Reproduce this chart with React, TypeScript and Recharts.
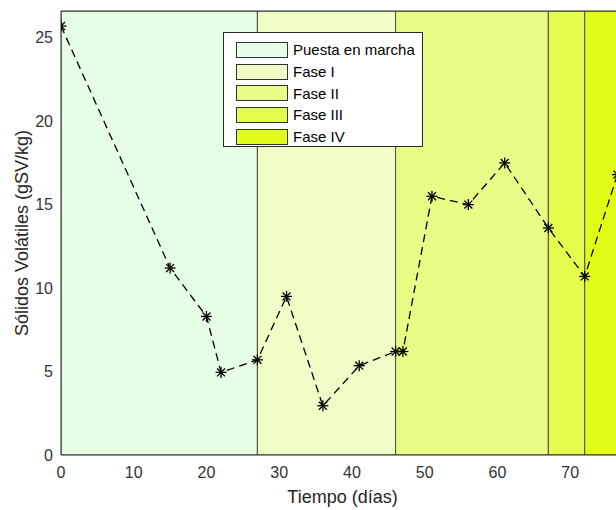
import React from 'react';
import { ComposedChart, Line, XAxis, YAxis, ReferenceArea, ReferenceLine, Legend, Label } from 'recharts';

// tiempo (días) y sólidos volátiles (gSV/kg)
const days = [0, 15, 20, 22, 27, 31, 36, 41, 46, 47, 51, 56, 61, 67, 72, 76.5];
const solids = [25.7, 11.2, 8.3, 4.95, 5.7, 9.5, 2.95, 5.35, 6.2, 6.2, 15.5, 15.0, 17.5, 13.6, 10.7, 16.8];

// fases del proceso
const phaseNames = ['Puesta en marcha', 'Fase I', 'Fase II', 'Fase III', 'Fase IV'];
const phaseStart = [0, 27, 46, 67, 72];
const phaseEnd = [27, 46, 67, 72, 80];
const phaseColors = ['#e6fde6', '#effdc6', '#e9fc86', '#e4fc4c', '#e1fd16'];

const xTicks = [0, 10, 20, 30, 40, 50, 60, 70];
const yTicks = [0, 5, 10, 15, 20, 25];

const X_MAX = 76.3;
const Y_MAX = 26.6;
const FONT = '"Liberation Sans", Arial, Helvetica, sans-serif';
const AXIS_COLOR = '#262626';

const data = days.map((d, i) => ({ day: d, sv: solids[i] }));

const Star = (props: any) => {
  const { cx, cy } = props;
  if (cx == null || cy == null) return null;
  const r = 5.5;
  const d = r * 0.72;
  return (
    <g stroke="#000" strokeWidth={1.3}>
      <line x1={cx - r} y1={cy} x2={cx + r} y2={cy} />
      <line x1={cx} y1={cy - r} x2={cx} y2={cy + r} />
      <line x1={cx - d} y1={cy - d} x2={cx + d} y2={cy + d} />
      <line x1={cx - d} y1={cy + d} x2={cx + d} y2={cy - d} />
    </g>
  );
};

const PhaseLegend = () => (
  <div
    style={{
      background: '#fff',
      border: '1px solid #262626',
      boxSizing: 'border-box',
      width: 200,
      height: 115,
      padding: '6px 0 0 12px',
      fontFamily: FONT,
      fontSize: 15,
      color: '#000',
    }}
  >
    {phaseNames.map((name, i) => (
      <div key={name} style={{ display: 'flex', alignItems: 'center', height: 21.7 }}>
        <div
          style={{
            width: 52,
            height: 16,
            boxSizing: 'border-box',
            background: phaseColors[i],
            border: '1px solid #333',
            marginRight: 5,
          }}
        />
        <span>{name}</span>
      </div>
    ))}
  </div>
);

export default function App() {
  return (
    <div style={{ position: 'absolute', left: 0, top: 0, background: '#fff' }}>
      <ComposedChart
        width={616}
        height={510}
        data={data}
        margin={{ top: 11, right: 0, bottom: 0, left: 0 }}
      >
        {phaseNames.map((name, i) => (
          <ReferenceArea
            key={name}
            x1={phaseStart[i]}
            x2={phaseEnd[i]}
            y1={0}
            y2={Y_MAX}
            fill={phaseColors[i]}
            fillOpacity={1}
            stroke="#4d4d33"
            strokeWidth={1}
            ifOverflow="hidden"
          />
        ))}
        <XAxis
          dataKey="day"
          type="number"
          domain={[0, X_MAX]}
          ticks={xTicks}
          allowDataOverflow
          height={55}
          tickLine={false}
          tickSize={0}
          tickMargin={12}
          stroke={AXIS_COLOR}
          tick={{ fill: '#333', fontSize: 16, fontFamily: FONT }}
        >
          <Label
            value="Tiempo (días)"
            position="insideBottom"
            offset={7}
            dx={4}
            style={{ fill: '#262626', fontSize: 18, fontFamily: FONT }}
          />
        </XAxis>
        <YAxis
          type="number"
          domain={[0, Y_MAX]}
          ticks={yTicks}
          allowDataOverflow
          width={61}
          tickLine={false}
          tickSize={0}
          tickMargin={8}
          stroke={AXIS_COLOR}
          tick={{ fill: '#333', fontSize: 16, fontFamily: FONT }}
        >
          <Label
            value="Sólidos Volátiles (gSV/kg)"
            angle={-90}
            position="insideLeft"
            offset={22}
            style={{ fill: '#262626', fontSize: 18, fontFamily: FONT, textAnchor: 'middle' }}
          />
        </YAxis>
        <ReferenceLine y={Y_MAX} stroke={AXIS_COLOR} ifOverflow="visible" />
        <Line
          dataKey="sv"
          stroke="#000"
          strokeWidth={1.3}
          strokeDasharray="8 5"
          dot={<Star />}
          activeDot={false}
          isAnimationActive={false}
        />
        <Legend
          layout="vertical"
          align="center"
          verticalAlign="middle"
          content={<PhaseLegend />}
          wrapperStyle={{ left: 223, top: 32, width: 200, height: 115 }}
        />
      </ComposedChart>
    </div>
  );
}
